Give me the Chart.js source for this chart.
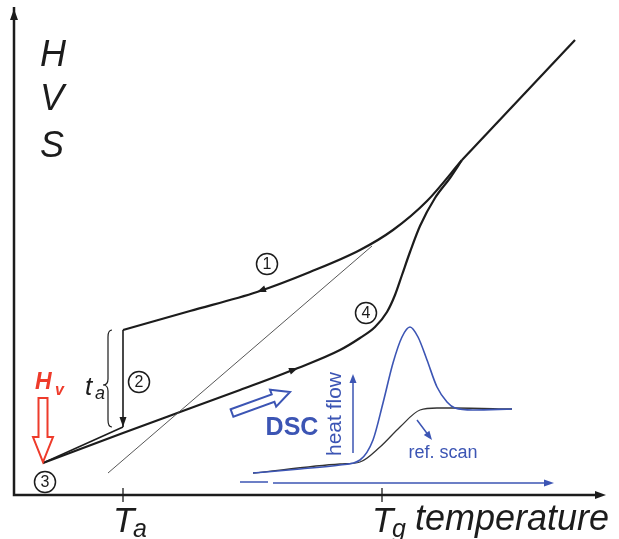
<!DOCTYPE html>
<html>
<head>
<meta charset="utf-8">
<script src="https://cdn.jsdelivr.net/npm/chart.js@4.4.0/dist/chart.umd.min.js"></script>
<style>
  html, body { margin: 0; padding: 0; background: #fff; }
  #wrap { width: 619px; height: 539px; position: relative; }
</style>
</head>
<body>
<div id="wrap"><canvas id="c"></canvas></div>
<script>
// temperature (x) vs H/V/S (y), arbitrary units
const liquidT = [448, 561];
const liquidH = [335, 455];
const coolT = [109, 176, 243, 296, 346, 379, 413, 448];
const coolH = [165, 184, 203, 223, 245, 265, 294, 335];
const extrapT = [94, 358];
const extrapH = [22, 249];
const agingT = [109, 109];
const agingH = [165, 68];
const agedT = [109, 29];
const agedH = [68, 32];
const heatT = [29, 109, 166, 226, 284, 326, 346, 361, 373, 381, 388, 396, 406, 421, 436, 448];
const heatH = [32, 62, 83, 105, 127, 145, 157, 168, 183, 200, 220, 243, 269, 297, 317, 335];

// DSC inset (same axes, drawn in the lower right)
const dscT = [239, 286, 326, 346, 359, 369, 379, 388, 396, 404, 413, 423, 433, 441, 459, 498];
const dscQ = [22, 26, 30, 35, 55, 92, 132, 158, 168, 158, 135, 108, 93, 87, 85, 86];
const refT = [239, 326, 346, 366, 386, 406, 423, 441, 498];
const refQ = [22, 31, 33, 48, 68, 85, 87, 87, 86];

const tickT = [109, 368];
const tickSub = ["a", "g"];
const stepLabels = ["1", "2", "3", "4"];
const stepT = [253, 125, 31, 352];
const stepH = [231, 113, 13, 182];

const zip = (xs, ys) => xs.map((v, i) => ({ x: v, y: ys[i] }));

const INK = "#1c1c1c";
const BLUE = "#3c55b4";
const RED = "#ee3b2b";
const FONT = "'Liberation Sans', Arial, sans-serif";

function line(label, xs, ys, color, width, curved) {
  return {
    label,
    data: zip(xs, ys),
    showLine: true,
    borderColor: color,
    borderWidth: width,
    pointRadius: 0,
    fill: false,
    cubicInterpolationMode: curved ? "monotone" : "default",
    tension: 0,
  };
}

function head(ctx, tx, ty, fx, fy, len, half, color) {
  const a = Math.atan2(ty - fy, tx - fx);
  const c = Math.cos(a), s = Math.sin(a);
  ctx.fillStyle = color;
  ctx.beginPath();
  ctx.moveTo(tx, ty);
  ctx.lineTo(tx - len * c + half * s, ty - len * s - half * c);
  ctx.lineTo(tx - len * c - half * s, ty - len * s + half * c);
  ctx.closePath();
  ctx.fill();
}

function hollow(ctx, x0, y0, x1, y1, sw, hw, hl, color) {
  const a = Math.atan2(y1 - y0, x1 - x0);
  const L = Math.hypot(x1 - x0, y1 - y0);
  const c = Math.cos(a), s = Math.sin(a);
  const pts = [[0, -sw], [L - hl, -sw], [L - hl, -hw], [L, 0], [L - hl, hw], [L - hl, sw], [0, sw]];
  ctx.strokeStyle = color;
  ctx.lineWidth = 2;
  ctx.lineJoin = "miter";
  ctx.beginPath();
  pts.forEach(([u, v], i) => {
    const px = x0 + u * c - v * s, py = y0 + u * s + v * c;
    i ? ctx.lineTo(px, py) : ctx.moveTo(px, py);
  });
  ctx.closePath();
  ctx.stroke();
}

const sketch = {
  id: "sketch",
  afterDatasetsDraw(chart) {
    const { ctx, scales } = chart;
    const X = v => scales.x.getPixelForValue(v);
    const Y = v => scales.y.getPixelForValue(v);
    const txt = (s, xv, yv, font, color, align = "left") => {
      ctx.font = font;
      ctx.fillStyle = color;
      ctx.textAlign = align;
      ctx.textBaseline = "alphabetic";
      ctx.fillText(s, X(xv), Y(yv));
    };
    ctx.save();

    // axes
    ctx.strokeStyle = INK;
    ctx.lineWidth = 2.5;
    ctx.beginPath();
    ctx.moveTo(X(0), Y(488));
    ctx.lineTo(X(0), Y(0));
    ctx.lineTo(X(585), Y(0));
    ctx.stroke();
    head(ctx, X(0), Y(486), X(0), Y(0), 11, 4, INK);
    head(ctx, X(592), Y(0), X(0), Y(0), 11, 4, INK);

    // ticks + labels
    ctx.lineWidth = 1.3;
    tickT.forEach((t, i) => {
      ctx.beginPath();
      ctx.moveTo(X(t), Y(7));
      ctx.lineTo(X(t), Y(-7));
      ctx.stroke();
      txt("T", t - 10, -37, "italic 35px " + FONT, INK);
      txt(tickSub[i], t + 10, -42, "italic 25px " + FONT, INK);
    });
    txt("temperature", 401, -35, "italic 36px " + FONT, INK);

    // y labels
    txt("H", 26, 429, "italic 36px " + FONT, INK);
    txt("V", 26, 385, "italic 36px " + FONT, INK);
    txt("S", 26, 338, "italic 36px " + FONT, INK);

    // arrowheads on the curves
    head(ctx, X(coolT[2]), Y(coolH[2]), X(coolT[3]), Y(coolH[3]), 9, 3.5, INK);
    head(ctx, X(heatT[4]), Y(heatH[4]), X(heatT[3]), Y(heatH[3]), 9, 3.5, INK);
    head(ctx, X(agingT[1]), Y(agingH[1]), X(agingT[0]), Y(agingH[0]), 10, 3.5, INK);

    // brace for t_a
    const bx = X(94), bt = Y(165), bb = Y(68), bm = Y(110), tip = X(89);
    ctx.lineWidth = 1.2;
    ctx.beginPath();
    ctx.moveTo(bx + 4, bt);
    ctx.quadraticCurveTo(bx, bt, bx, bt + 7);
    ctx.lineTo(bx, bm - 6);
    ctx.quadraticCurveTo(bx, bm, tip, bm);
    ctx.quadraticCurveTo(bx, bm, bx, bm + 6);
    ctx.lineTo(bx, bb - 7);
    ctx.quadraticCurveTo(bx, bb, bx + 4, bb);
    ctx.stroke();
    txt("t", 71, 100, "italic 26px " + FONT, INK);
    txt("a", 81, 96, "italic 18px " + FONT, INK);

    // circled step numbers
    stepLabels.forEach((s, i) => {
      ctx.strokeStyle = INK;
      ctx.lineWidth = 1.5;
      ctx.beginPath();
      ctx.arc(X(stepT[i]), Y(stepH[i]), 10.5, 0, Math.PI * 2);
      ctx.stroke();
      ctx.font = "16px " + FONT;
      ctx.fillStyle = INK;
      ctx.textAlign = "center";
      ctx.textBaseline = "middle";
      ctx.fillText(s, X(stepT[i]), Y(stepH[i]) + 1);
    });

    // H_v with hollow red arrow
    txt("H", 21, 106, "italic bold 23px " + FONT, RED);
    txt("v", 41, 100, "italic bold 16px " + FONT, RED);
    hollow(ctx, X(29), Y(97), X(29), Y(33), 4.5, 10, 25, RED);

    // DSC inset decorations
    hollow(ctx, X(218), Y(82), X(276), Y(103), 4, 9, 18, BLUE);
    txt("DSC", 278, 60, "bold 25px " + FONT, BLUE, "center");
    txt("ref. scan", 429, 37, "18px " + FONT, BLUE, "center");
    ctx.save();
    ctx.translate(X(327), Y(81));
    ctx.rotate(-Math.PI / 2);
    ctx.font = "21px " + FONT;
    ctx.fillStyle = BLUE;
    ctx.textAlign = "center";
    ctx.textBaseline = "alphabetic";
    ctx.fillText("heat flow", 0, 0);
    ctx.restore();

    ctx.strokeStyle = BLUE;
    ctx.lineWidth = 1.5;
    ctx.beginPath();
    ctx.moveTo(X(339), Y(42)); ctx.lineTo(X(339), Y(114));
    ctx.moveTo(X(403), Y(75)); ctx.lineTo(X(415), Y(59));
    ctx.moveTo(X(259), Y(12)); ctx.lineTo(X(533), Y(12));
    ctx.moveTo(X(226), Y(13)); ctx.lineTo(X(254), Y(13));
    ctx.stroke();
    head(ctx, X(339), Y(121), X(339), Y(42), 9, 3.5, BLUE);
    head(ctx, X(418), Y(55), X(403), Y(75), 9, 3.5, BLUE);
    head(ctx, X(540), Y(12), X(259), Y(12), 10, 3.5, BLUE);

    ctx.restore();
  },
};

new Chart(document.getElementById("c"), {
  type: "scatter",
  data: {
    datasets: [
      line("DSC", dscT, dscQ, BLUE, 1.6, true),
      line("ref. scan", refT, refQ, "#333", 1.3, true),
      line("liquid", liquidT, liquidH, INK, 2.2, false),
      line("cooling 1", coolT, coolH, INK, 2.2, true),
      line("extrapolated", extrapT, extrapH, "#444", 0.9, false),
      line("aging 2", agingT, agingH, INK, 1.6, false),
      line("aged 3", agedT, agedH, INK, 1.6, false),
      line("heating 4", heatT, heatH, INK, 2.2, true),
    ],
  },
  options: {
    responsive: true,
    maintainAspectRatio: false,
    animation: false,
    events: [],
    layout: { padding: { left: 14, right: 0, top: 0, bottom: 44 } },
    plugins: { legend: { display: false }, tooltip: { enabled: false } },
    scales: {
      x: { type: "linear", min: 0, max: 605, display: false },
      y: { type: "linear", min: 0, max: 495, display: false },
    },
  },
  plugins: [sketch],
});
</script>
</body>
</html>
